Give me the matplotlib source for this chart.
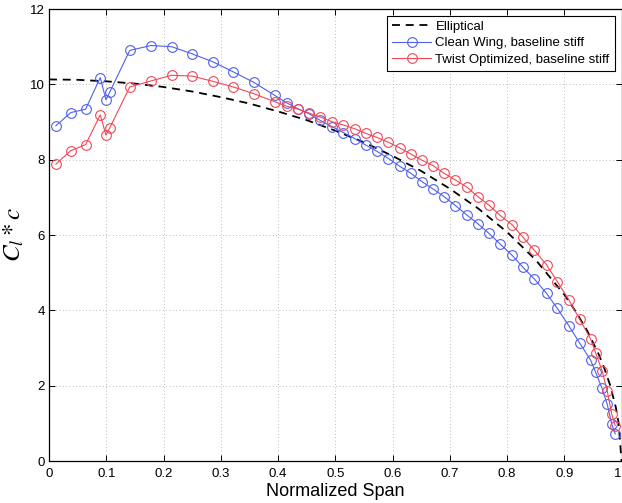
import matplotlib.pyplot as plt

plt.rcParams['font.family'] = ['Liberation Sans', 'DejaVu Sans']
plt.rcParams['mathtext.fontset'] = 'stix'

# spanwise stations and loading (Cl * c)
span = [0.012, 0.038, 0.064, 0.0895, 0.0995, 0.106, 0.141, 0.178, 0.214, 0.250,
        0.286, 0.322, 0.358, 0.394, 0.415, 0.435, 0.454, 0.474, 0.494, 0.514,
        0.534, 0.553, 0.573, 0.593, 0.613, 0.632, 0.651, 0.671, 0.690, 0.710,
        0.730, 0.749, 0.768, 0.788, 0.809, 0.828, 0.848, 0.869, 0.888, 0.908,
        0.927, 0.946, 0.955, 0.966, 0.975, 0.983, 0.989]

clean_wing = [8.90, 9.25, 9.34, 10.18, 9.59, 9.79, 10.90, 11.03, 11.00, 10.81,
              10.60, 10.33, 10.05, 9.71, 9.51, 9.35, 9.22, 9.04, 8.88, 8.72,
              8.56, 8.39, 8.22, 8.03, 7.82, 7.64, 7.42, 7.22, 7.02, 6.78,
              6.53, 6.30, 6.05, 5.76, 5.46, 5.14, 4.83, 4.45, 4.05, 3.59,
              3.13, 2.68, 2.35, 1.93, 1.51, 0.98, 0.72]

twist_opt = [7.88, 8.24, 8.40, 9.19, 8.65, 8.84, 9.93, 10.09, 10.24, 10.22,
             10.08, 9.93, 9.75, 9.54, 9.42, 9.34, 9.24, 9.13, 9.01, 8.92,
             8.82, 8.70, 8.59, 8.46, 8.31, 8.15, 7.99, 7.84, 7.64, 7.46,
             7.27, 7.02, 6.80, 6.52, 6.27, 5.94, 5.59, 5.21, 4.76, 4.28,
             3.76, 3.24, 2.86, 2.40, 1.86, 1.24, 0.94]

# elliptical reference loading
ell_span = [0.0, 0.05, 0.1, 0.15, 0.2, 0.25, 0.3, 0.35, 0.4, 0.45, 0.5, 0.55,
            0.6, 0.65, 0.7, 0.75, 0.8, 0.85, 0.9, 0.92, 0.94, 0.96, 0.97,
            0.98, 0.99, 0.995, 1.0]
ell_load = [10.13, 10.12, 10.08, 10.02, 9.93, 9.81, 9.66, 9.49, 9.28, 9.05,
            8.77, 8.46, 8.10, 7.70, 7.23, 6.70, 6.08, 5.34, 4.42, 3.97,
            3.46, 2.84, 2.46, 2.02, 1.43, 1.01, 0.0]

xticks = [0, 0.1, 0.2, 0.3, 0.4, 0.5, 0.6, 0.7, 0.8, 0.9, 1]
xtick_labels = ['0', '0.1', '0.2', '0.3', '0.4', '0.5', '0.6', '0.7', '0.8', '0.9', '1']
yticks = [0, 2, 4, 6, 8, 10, 12]

blue = '#5060ee'
red = '#f04858'

fig = plt.figure(figsize=(6.22, 5.03), dpi=100)
ax = fig.add_axes([49 / 622, 42 / 503, 572.5 / 622, 452 / 503])

ax.plot(ell_span, ell_load, color='black', linewidth=1.3, dashes=(4.4, 3.2),
        label='Elliptical')
ax.plot(span, clean_wing, color=blue, linewidth=0.8, marker='o', markersize=7,
        markerfacecolor='none', markeredgewidth=0.8, label='Clean Wing, baseline stiff')
ax.plot(span, twist_opt, color=red, linewidth=0.8, marker='o', markersize=7,
        markerfacecolor='none', markeredgewidth=0.8, label='Twist Optimized, baseline stiff')

ax.set_xlim(0, 1)
ax.set_ylim(0, 12)
ax.set_xticks(xticks)
ax.set_xticklabels(xtick_labels)
ax.set_yticks(yticks)
ax.tick_params(direction='in', length=4.5, width=0.7, top=True, right=True,
               labelsize=9.5, colors='black')
ax.tick_params(axis='x', pad=5)
ax.tick_params(axis='y', pad=3)
# last x label sits on the figure edge, keep it inside
ax.get_xticklabels()[-1].set_horizontalalignment('right')
ax.grid(True, linestyle=(0, (1, 3)), color='#a8a8a8', linewidth=0.6)
for side in ax.spines.values():
    side.set_linewidth(0.9)

ax.set_xlabel('Normalized Span', fontsize=13, labelpad=2)
ax.set_ylabel(r'$C_l * c$', fontsize=18, labelpad=3)

leg = ax.legend(loc='upper right', fontsize=9.5, handlelength=3.0, labelspacing=0.3,
                borderpad=0.4, handletextpad=0.3, fancybox=False, framealpha=1,
                borderaxespad=0.5)
leg.get_frame().set_edgecolor('black')
leg.get_frame().set_linewidth(0.8)

fig.savefig('out.png', dpi=100)
